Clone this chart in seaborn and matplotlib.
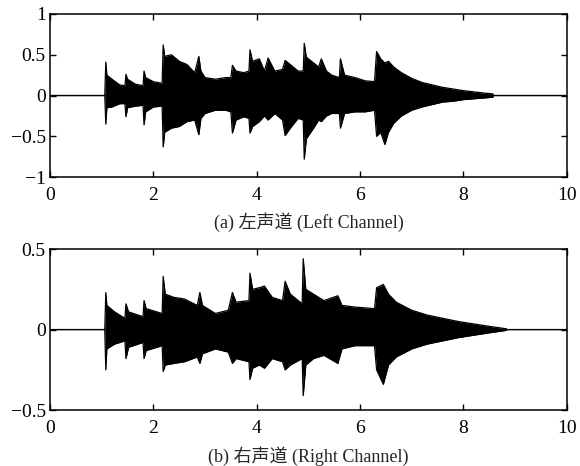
import numpy as np
import pandas as pd
import matplotlib
matplotlib.use("Agg")
import matplotlib.pyplot as plt
import seaborn as sns

# ---- data: envelope of the waveform ----
t_left = [0.0, 1.06, 1.08, 1.10, 1.20, 1.35, 1.45, 1.47, 1.50, 1.65, 1.80, 1.82, 1.85, 2.00, 2.17,
          2.19, 2.22, 2.35, 2.50, 2.65, 2.80, 2.88, 2.92, 3.00, 3.20, 3.40, 3.50, 3.53, 3.60, 3.75,
          3.85, 3.87, 3.92, 4.05, 4.15, 4.22, 4.35, 4.50, 4.55, 4.65, 4.80, 4.90, 4.92, 4.96, 5.10,
          5.20, 5.25, 5.35, 5.45, 5.60, 5.62, 5.70, 5.90, 6.10, 6.28, 6.32, 6.40, 6.48, 6.55, 6.65,
          6.80, 7.00, 7.20, 7.40, 7.60, 7.80, 8.00, 8.20, 8.40, 8.57, 8.58, 10.0]
up_left = [0, 0, 0.41, 0.25, 0.20, 0.13, 0.12, 0.26, 0.20, 0.14, 0.12, 0.30, 0.22, 0.17, 0.15,
           0.62, 0.48, 0.50, 0.42, 0.38, 0.28, 0.48, 0.30, 0.22, 0.20, 0.22, 0.22, 0.37, 0.30, 0.28,
           0.30, 0.56, 0.42, 0.45, 0.30, 0.46, 0.30, 0.32, 0.43, 0.38, 0.30, 0.30, 0.64, 0.47, 0.40,
           0.35, 0.45, 0.30, 0.25, 0.22, 0.45, 0.25, 0.22, 0.18, 0.17, 0.54, 0.45, 0.40, 0.42, 0.35,
           0.28, 0.21, 0.16, 0.13, 0.10, 0.08, 0.06, 0.045, 0.03, 0.02, 0, 0]
lo_left = [0, 0, -0.35, -0.15, -0.14, -0.10, -0.10, -0.26, -0.15, -0.13, -0.12, -0.36, -0.20, -0.14, -0.13,
           -0.63, -0.45, -0.40, -0.38, -0.32, -0.30, -0.48, -0.28, -0.22, -0.18, -0.18, -0.20, -0.46, -0.30, -0.26,
           -0.28, -0.46, -0.38, -0.32, -0.25, -0.30, -0.22, -0.30, -0.49, -0.40, -0.28, -0.30, -0.78, -0.53, -0.40,
           -0.30, -0.32, -0.25, -0.22, -0.22, -0.40, -0.22, -0.20, -0.20, -0.18, -0.50, -0.45, -0.60, -0.45, -0.34,
           -0.25, -0.18, -0.14, -0.11, -0.08, -0.07, -0.05, -0.04, -0.03, -0.02, 0, 0]

t_right = [0.0, 1.06, 1.08, 1.10, 1.25, 1.45, 1.47, 1.52, 1.80, 1.82, 1.86, 2.17, 2.19, 2.23, 2.40,
           2.60, 2.85, 2.90, 2.95, 3.20, 3.45, 3.53, 3.60, 3.85, 3.87, 3.92, 4.05, 4.15, 4.30, 4.50,
           4.55, 4.65, 4.88, 4.90, 4.95, 5.10, 5.30, 5.57, 5.65, 5.90, 6.28, 6.32, 6.45, 6.55, 6.70,
           7.00, 7.30, 7.60, 7.90, 8.20, 8.50, 8.83, 8.84, 10.0]
up_right = [0, 0, 0.23, 0.15, 0.11, 0.07, 0.16, 0.11, 0.08, 0.18, 0.13, 0.10, 0.33, 0.22, 0.20,
            0.19, 0.15, 0.23, 0.15, 0.10, 0.12, 0.23, 0.17, 0.18, 0.35, 0.25, 0.26, 0.27, 0.20, 0.18,
            0.30, 0.22, 0.16, 0.44, 0.25, 0.22, 0.18, 0.21, 0.15, 0.14, 0.13, 0.26, 0.28, 0.22, 0.17,
            0.12, 0.09, 0.07, 0.05, 0.035, 0.02, 0.005, 0, 0]
lo_right = [0, 0, -0.25, -0.12, -0.09, -0.07, -0.18, -0.11, -0.08, -0.18, -0.13, -0.10, -0.26, -0.22, -0.21,
            -0.20, -0.17, -0.21, -0.15, -0.12, -0.14, -0.21, -0.18, -0.20, -0.31, -0.24, -0.22, -0.24, -0.18, -0.20,
            -0.25, -0.22, -0.18, -0.41, -0.22, -0.18, -0.16, -0.21, -0.12, -0.10, -0.10, -0.25, -0.34, -0.22, -0.17,
            -0.12, -0.09, -0.07, -0.05, -0.035, -0.02, -0.005, 0, 0]

x_ticks = [0, 2, 4, 6, 8, 10]
y_ticks_left = [-1, -0.5, 0, 0.5, 1]
y_ticks_right = [-0.5, 0, 0.5]
captions = ["(a) 左声道 (Left Channel)", "(b) 右声道 (Right Channel)"]

sns.set_theme(style="ticks")
plt.rcParams["font.family"] = ["Liberation Serif", "Noto Sans CJK SC"]
plt.rcParams["axes.unicode_minus"] = True

fig = plt.figure(figsize=(5.8, 4.66), dpi=100)
ax1 = fig.add_axes([0.0862, 0.620, 0.891, 0.350])
ax2 = fig.add_axes([0.0862, 0.120, 0.891, 0.3455])

def draw(ax, t, up, lo, yticks, ylim):
    df = pd.DataFrame({"t": t, "up": up, "lo": lo})
    sns.lineplot(data=df, x="t", y="up", ax=ax, color="black", lw=0.9,
                 estimator=None, sort=False)
    sns.lineplot(data=df, x="t", y="lo", ax=ax, color="black", lw=0.9,
                 estimator=None, sort=False)
    ax.fill_between(df["t"], df["lo"], df["up"], color="black", lw=0)
    ax.set_xlim(0, 10)
    ax.set_ylim(*ylim)
    ax.set_xticks(x_ticks)
    ax.set_yticks(yticks)
    ax.set_xticklabels([f"{v:g}" for v in x_ticks])
    ax.set_yticklabels([f"{v:g}".replace("-", "\u2212") for v in yticks])
    ax.set_xlabel("")
    ax.set_ylabel("")
    ax.tick_params(direction="in", length=4, width=1.0, top=True, right=True,
                   labelsize=14, colors="black")
    ax.tick_params(axis="x", pad=7)
    ax.tick_params(axis="y", pad=3)
    for s in ax.spines.values():
        s.set_visible(True)
        s.set_linewidth(1.1)
        s.set_color("black")

draw(ax1, t_left, up_left, lo_left, y_ticks_left, (-1, 1))
draw(ax2, t_right, up_right, lo_right, y_ticks_right, (-0.5, 0.5))

fig.text(0.532, 1 - 222 / 466, captions[0], ha="center", va="center", fontsize=13)
fig.text(0.532, 1 - 456 / 466, captions[1], ha="center", va="center", fontsize=13)

fig.savefig("out.png", dpi=100, facecolor="white")
